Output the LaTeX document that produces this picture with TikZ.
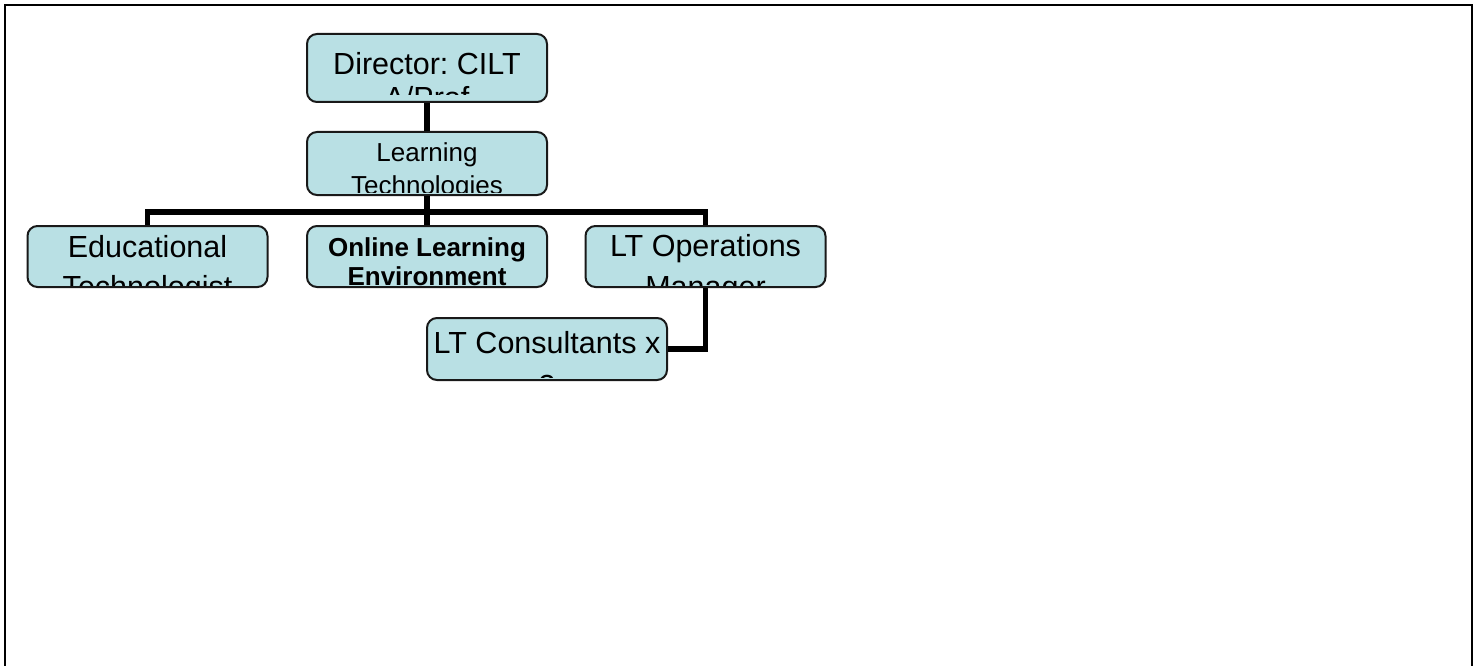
\documentclass[tikz,border=0pt]{standalone}
\usepackage{fontspec}
\setmainfont{Liberation Sans}
\frenchspacing
\definecolor{boxfill}{RGB}{185,224,228}
\definecolor{boxline}{RGB}{25,25,25}
\newcommand\boxclip[2]{\clip ([shift={(2,-2)}]#1.south west) rectangle ([shift={(-2,2)}]#1.north east);\clip (0,0) rectangle (1481,#2);}
\begin{document}
\begin{tikzpicture}[x=1pt,y=-1pt,
  box/.style={draw=boxline, line width=2pt, fill=boxfill, rounded corners=10pt,
    minimum width=240pt, minimum height=61pt, inner sep=0pt},
  conn/.style={line width=5.5pt, draw=black},
  frameline/.style={line width=2.5pt, draw=black},
  big/.style={anchor=base, inner sep=0pt, font=\fontsize{30.5}{35}\selectfont},
  mid/.style={anchor=base, inner sep=0pt, font=\fontsize{26}{30}\selectfont},
  midbold/.style={anchor=base, inner sep=0pt, font=\fontsize{26}{30}\selectfont\bfseries}]
\useasboundingbox[fill=white] (0,0) rectangle (1481,666);
\draw[frameline] (5,690) -- (5,5) -- (1472,5) -- (1472,690);

\node[box, minimum height=68pt] (dir) at (427,68) {};
\node[box, minimum height=63pt] (lt) at (427,163.5) {};
\node[box] (edu) at (147.5,256.5) {};
\node[box] (ole) at (427,256.5) {};
\node[box] (ops) at (705.5,256.5) {};
\node[box, minimum height=62pt] (cons) at (547,349) {};
\coordinate (barc) at (427,212);

\draw[conn] (dir.south) -- (lt.north);
\draw[conn] (edu.north) |- (barc) -| (ops.north);
\draw[conn] (lt.south) -- (ole.north);
\draw[conn] (ops.south) |- (cons.east);

\begin{scope}\boxclip{dir}{95}
\node[big] (dirA) at (427,75) {Director: CILT};
\node[big] (dirB) at (427,109) {A/Prof};
\end{scope}
\begin{scope}\boxclip{lt}{192.5}
\node[mid] (ltA) at (427,161) {Learning};
\node[mid] (ltB) at (427,194) {Technologies};
\end{scope}
\begin{scope}\boxclip{edu}{285}
\node[big] (eduA) at (147.5,257) {Educational};
\node[big] (eduB) at (147.5,297) {Technologist};
\end{scope}
\begin{scope}\boxclip{ole}{287}
\node[midbold] (oleA) at (427,256) {Online Learning};
\node[midbold] (oleB) at (427,285) {Environment};
\end{scope}
\begin{scope}\boxclip{ops}{285}
\node[big] (opsA) at (705.5,256) {LT Operations};
\node[big] (opsB) at (705.5,297) {Manager};
\end{scope}
\begin{scope}\boxclip{cons}{377}
\node[big] (consA) at (547,353) {LT Consultants x};
\node[big] (consB) at (547,396) {3};
\end{scope}
\end{tikzpicture}
\end{document}
